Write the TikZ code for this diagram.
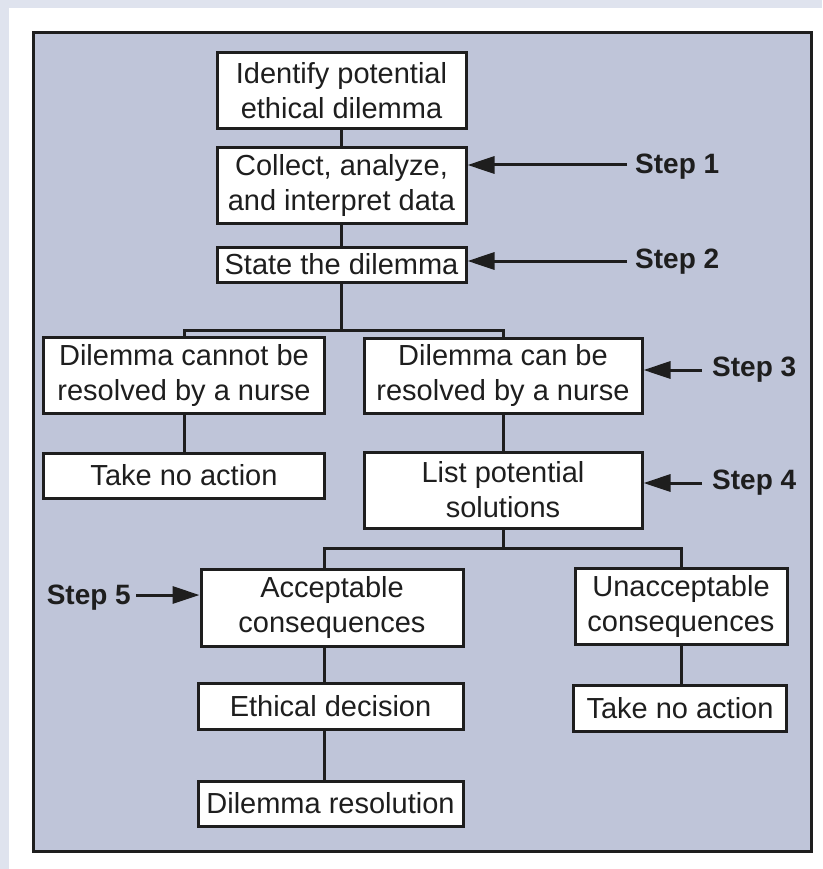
\documentclass[tikz,border=0pt]{standalone}
\usepackage{fontspec}
\setmainfont{Liberation Sans}
\usetikzlibrary{arrows.meta}
\definecolor{pagegray}{HTML}{DFE3EE}
\definecolor{panelblue}{HTML}{BFC5D9}
\definecolor{ink}{HTML}{1E1E1E}
\tikzset{
  box/.style={draw=ink, line width=3pt, fill=white, inner sep=0pt,
    align=center, text=ink, font=\fontsize{29}{35}\selectfont},
  link/.style={draw=ink, line width=3pt},
  pointer/.style={draw=ink, line width=3pt, -{Triangle[length=27pt,width=17pt]}},
  steplabel/.style={text=ink, inner sep=0pt, font=\fontsize{28}{32}\selectfont\bfseries}
}
\begin{document}
\begin{tikzpicture}[x=1pt,y=-1pt]
\useasboundingbox (0,0) rectangle (822,869);
\fill[pagegray] (0,0) rectangle (822,869);
\fill[white] (9,8) rectangle (822,869);
\draw[draw=ink, line width=3pt, fill=panelblue] (33.5,32.5) rectangle (811.5,851.5);

% main column
\node[box, minimum width=249pt, minimum height=76pt] (ident) at (341.5,91)
  {Identify potential\\ethical dilemma};
\node[box, minimum width=249pt, minimum height=75pt] (collect) at (341.5,185.5)
  {Collect, analyze,\\and interpret data};
\node[box, minimum width=249pt, minimum height=35pt] (state) at (341.5,264.5)
  {State the dilemma};

% first split
\node[box, minimum width=281pt, minimum height=76pt] (cannot) at (184,375)
  {Dilemma cannot be\\resolved by a nurse};
\node[box, minimum width=281pt, minimum height=45pt] (noact1) at (184,475.5)
  {Take no action};
\node[box, minimum width=278pt, minimum height=75pt] (can) at (503,375.5)
  {Dilemma can be\\resolved by a nurse};
\node[box, minimum width=278pt, minimum height=76pt] (list) at (503,490)
  {List potential\\solutions};

% second split
\node[box, minimum width=262pt, minimum height=77pt] (accept) at (332,607.5)
  {Acceptable\\consequences};
\node[box, minimum width=265pt, minimum height=46pt] (ethical) at (330.5,706)
  {Ethical decision};
\node[box, minimum width=265pt, minimum height=45pt] (resolve) at (330.5,803.5)
  {Dilemma resolution};
\node[box, minimum width=212pt, minimum height=76pt] (unaccept) at (681,606)
  {Unacceptable\\consequences};
\node[box, minimum width=213pt, minimum height=46pt] (noact2) at (680,708)
  {Take no action};

% connectors
\coordinate (spine) at (324,0);
\draw[link] (ident.south) -- (collect.north);
\draw[link] (collect.south) -- (state.north);
\draw[link] (state.south) -- ++(0,46.5) coordinate (fork1);
\draw[link] (cannot.north) |- (fork1) -| (can.north);
\draw[link] (cannot.south) -- (noact1.north);
\draw[link] (can.south) -- (list.north);
\draw[link] (list.south) -- ++(0,19) coordinate (fork2);
\draw[link] (accept.north -| spine) |- (fork2) -| (unaccept.north);
\draw[link] (accept.south -| spine) -- (ethical.north -| spine);
\draw[link] (ethical.south -| spine) -- (resolve.north -| spine);
\draw[link] (unaccept.south) -- (unaccept.south |- noact2.north);

% step labels
\node[steplabel, anchor=west] (s1) at (635,167) {Step 1};
\node[steplabel, anchor=west] (s2) at (635,262) {Step 2};
\node[steplabel, anchor=west] (s3) at (712,370) {Step 3};
\node[steplabel, anchor=west] (s4) at (712,483) {Step 4};
\node[steplabel, anchor=east] (s5) at (131,598) {Step 5};

\draw[pointer] ([xshift=-8pt,yshift=2pt]s1.west) -- ([yshift=2pt]s1.west -| collect.east);
\draw[pointer] ([xshift=-8pt,yshift=1pt]s2.west) -- ([yshift=1pt]s2.west -| state.east);
\draw[pointer] ([xshift=-10pt]s3.west) -- (s3.west -| can.east);
\draw[pointer] ([xshift=-10pt]s4.west) -- (s4.west -| list.east);
\draw[pointer] ([xshift=5pt,yshift=3pt]s5.east) -- ([yshift=3pt]s5.east -| accept.west);
\end{tikzpicture}
\end{document}
